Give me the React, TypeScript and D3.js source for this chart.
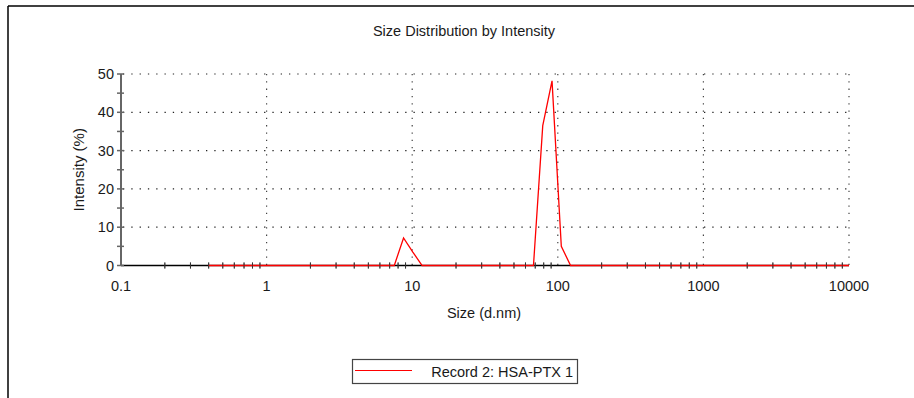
import React from "react";
import * as d3 from "d3";

const sizes: number[] = [
  0.4, 0.4632, 0.5365, 0.6213, 0.7195, 0.8332, 0.9649, 1.117, 1.294, 1.499,
  1.736, 2.01, 2.328, 2.696, 3.122, 3.615, 4.187, 4.849, 5.615, 6.503,
  7.531, 8.721, 10.1, 11.7, 13.54, 15.69, 18.17, 21.04, 24.36, 28.21,
  32.67, 37.84, 43.82, 50.75, 58.77, 68.06, 78.82, 91.28, 105.7, 122.4,
  141.8, 164.2, 190.1, 220.2, 255.0, 295.3, 342.0, 396.1, 458.7, 531.2,
  615.1, 712.4, 825.0, 955.4, 1106, 1281, 1484, 1718, 1990, 2305,
  2669, 3091, 3580, 4145, 4801, 5560, 6439, 7456, 8635, 10000,
];
const intensity: number[] = [
  0, 0, 0, 0, 0, 0, 0, 0, 0, 0,
  0, 0, 0, 0, 0, 0, 0, 0, 0, 0,
  0, 7.2, 3.5, 0, 0, 0, 0, 0, 0, 0,
  0, 0, 0, 0, 0, 0, 36.5, 48.2, 5.0, 0,
  0, 0, 0, 0, 0, 0, 0, 0, 0, 0,
  0, 0, 0, 0, 0, 0, 0, 0, 0, 0,
  0, 0, 0, 0, 0, 0, 0, 0, 0, 0,
];
const xTicks: number[] = [0.1, 1, 10, 100, 1000, 10000];
const xTickLabels: string[] = ["0.1", "1", "10", "100", "1000", "10000"];
const yTicks: number[] = [0, 10, 20, 30, 40, 50];
const yMinorTicks: number[] = [5, 15, 25, 35, 45];
const title = "Size Distribution by Intensity";
const xLabel = "Size (d.nm)";
const yLabel = "Intensity (%)";
const legendLabel = "Record 2: HSA-PTX 1";

const FONT = "'Liberation Sans', Arial, sans-serif";

export default function App() {
  const W = 914;
  const H = 398;
  const x = d3.scaleLog().domain([0.1, 10000]).range([121, 849]);
  const y = d3.scaleLinear().domain([0, 50]).range([265.5, 74]);

  const minorX: number[] = [];
  for (let e = -1; e < 4; e++) {
    for (let m = 2; m <= 9; m++) minorX.push(m * Math.pow(10, e));
  }

  const line = d3
    .line<number>()
    .x((_, i) => x(sizes[i]))
    .y((v) => y(v));

  return (
    <svg
      width={W}
      height={H}
      style={{ position: "absolute", left: 0, top: 0, background: "#fff" }}
    >
      <rect x={0} y={0} width={W} height={H} fill="#fff" />
      <line x1={8} y1={6} x2={914} y2={6} stroke="#000" strokeWidth={1.5} />
      <line x1={8} y1={6} x2={8} y2={398} stroke="#000" strokeWidth={1.5} />

      <text x={464} y={36} textAnchor="middle" fontFamily={FONT} fontSize={14.5} fill="#1a1a1a">
        {title}
      </text>

      {yTicks.filter((t) => t > 0).map((t) => (
        <line
          key={"hg" + t}
          x1={x(0.1) + 2}
          x2={x(10000)}
          y1={y(t)}
          y2={y(t)}
          stroke="#222"
          strokeWidth={1.2}
          strokeDasharray="1.3 7"
        />
      ))}
      {xTicks.filter((t) => t > 0.1).map((t) => (
        <line
          key={"vg" + t}
          x1={x(t)}
          x2={x(t)}
          y1={y(50)}
          y2={y(0)}
          stroke="#444"
          strokeWidth={1.2}
          strokeDasharray="1.3 6"
        />
      ))}

      <line x1={x(0.1)} x2={x(10000)} y1={y(0)} y2={y(0)} stroke="#000" strokeWidth={1.5} />
      {minorX.map((t, i) => (
        <line
          key={"mx" + i}
          x1={x(t)}
          x2={x(t)}
          y1={y(0) - 3}
          y2={y(0) + 3}
          stroke="#333"
          strokeWidth={1}
        />
      ))}
      <path d={line(intensity) || ""} fill="none" stroke="#ff0000" strokeWidth={1.3} />
      {minorX.map((t, i) => (
        <line
          key={"mx2" + i}
          x1={x(t)}
          x2={x(t)}
          y1={y(0) - 3}
          y2={y(0) + 3}
          stroke="#333"
          strokeWidth={1}
          opacity={0.7}
        />
      ))}
      {xTicks.map((t, i) => (
        <text
          key={"xl" + t}
          x={x(t)}
          y={291}
          textAnchor="middle"
          fontFamily={FONT}
          fontSize={14.5}
          fill="#1a1a1a"
        >
          {xTickLabels[i]}
        </text>
      ))}
      <text x={484} y={318} textAnchor="middle" fontFamily={FONT} fontSize={14.5} fill="#1a1a1a">
        {xLabel}
      </text>

      <line x1={121} x2={121} y1={y(50)} y2={y(0)} stroke="#666" strokeWidth={2} />
      {yTicks.map((t) => (
        <line key={"yt" + t} x1={117} x2={124} y1={y(t)} y2={y(t)} stroke="#666" strokeWidth={1.5} />
      ))}
      {yMinorTicks.map((t) => (
        <line key={"ym" + t} x1={117} x2={124} y1={y(t)} y2={y(t)} stroke="#666" strokeWidth={1.5} />
      ))}
      {yTicks.map((t) => (
        <text
          key={"yl" + t}
          x={114}
          y={y(t) + 5}
          textAnchor="end"
          fontFamily={FONT}
          fontSize={14.5}
          fill="#1a1a1a"
        >
          {t}
        </text>
      ))}
      <text
        transform={`translate(84, ${(y(0) + y(50)) / 2}) rotate(-90)`}
        textAnchor="middle"
        fontFamily={FONT}
        fontSize={15}
        fill="#1a1a1a"
      >
        {yLabel}
      </text>

      <rect x={352.5} y={359.5} width={225} height={24} fill="#fff" stroke="#444" strokeWidth={1.2} />
      <line x1={355} x2={412} y1={370.5} y2={370.5} stroke="#ff0000" strokeWidth={1.2} />
      <text x={573} y={377} textAnchor="end" fontFamily={FONT} fontSize={14.5} fill="#1a1a1a">
        {legendLabel}
      </text>
    </svg>
  );
}
